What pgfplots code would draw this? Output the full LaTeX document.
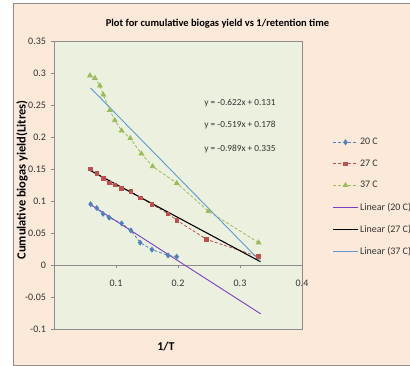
\documentclass[border=0pt]{standalone}
\usepackage{fontspec}
\setmainfont{Carlito}
\usepackage{pgfplots}
\pgfplotsset{compat=1.18}
\definecolor{peach}{HTML}{FDE9D9}
\definecolor{plotbg}{HTML}{EBF1DE}
\definecolor{sblue}{HTML}{4F81BD}
\definecolor{sred}{HTML}{C0504D}
\definecolor{sgreen}{HTML}{9BBB59}
\definecolor{lpurple}{HTML}{7B3FC4}
\definecolor{lblue}{HTML}{5B9BD5}
\definecolor{framegray}{HTML}{8C8C8C}
\begin{document}
\begin{tikzpicture}
\useasboundingbox (0pt,0pt) rectangle (410pt,366pt);
\fill[white] (0pt,0pt) rectangle (410pt,366pt);
\filldraw[fill=peach, draw=framegray, line width=0.8pt] (13pt,1pt) rectangle (412pt,363pt);
\node[font=\bfseries\fontsize{10.5}{12}\selectfont] at (217.5pt,342.5pt) {Plot for cumulative biogas yield vs 1/retention time};
\node[font=\bfseries\fontsize{12.5}{14}\selectfont, rotate=90] at (22pt,186pt) {Cumulative biogas yield(Litres)};
\node[font=\bfseries\fontsize{12}{14}\selectfont] at (166pt,19pt) {1/T};
\begin{axis}[
  at={(54pt,37pt)}, anchor=south west,
  scale only axis, width=248pt, height=288pt,
  xmin=0, xmax=0.4, ymin=-0.1, ymax=0.35,
  axis x line=middle, axis y line=left,
  axis line style={-, draw=framegray, line width=0.6pt},
  axis background/.style={fill=plotbg},
  xtick={0,0.1,0.2,0.3,0.4},
  ytick={-0.1,-0.05,0,0.05,0.1,0.15,0.2,0.25,0.3,0.35},
  yticklabels={-0.1,-0.05,0,0.05,0.1,0.15,0.2,0.25,0.3,0.35},
  xticklabels={0,0.1,0.2,0.3,0.4},
  tick align=outside, major tick length=3pt,
  tick style={draw=framegray, line width=0.6pt},
  xticklabel style={yshift=-8pt, font=\fontsize{10}{12}\selectfont, text=black!80},
  yticklabel style={xshift=-1.5pt, font=\fontsize{10}{12}\selectfont, text=black!80},
  /pgf/number format/assume math mode=true,
  clip=false,
  legend cell align=left,
  legend style={draw=none, fill=none, at={(1.122,0.668)}, anchor=north west,
    inner sep=0pt, row sep=10.5pt,
    font=\fontsize{10}{12}\selectfont, text=black!80,
    nodes={inner sep=1.5pt}},
  legend image code/.code={\draw[mark repeat=2,mark phase=2,#1] plot coordinates {(0pt,0pt) (12.5pt,0pt) (25pt,0pt)};},
]
\draw[framegray, line width=0.6pt] (rel axis cs:0,0) rectangle (rel axis cs:1,1);
\addplot[sblue, dashed, dash pattern=on 3pt off 2pt, line width=0.8pt, mark=diamond*, mark size=2.4pt, mark options={solid, fill=sblue}] coordinates {
(0.059,0.095) (0.069,0.089) (0.079,0.080) (0.089,0.074) (0.109,0.065) (0.124,0.054) (0.139,0.035) (0.158,0.024) (0.184,0.015) (0.198,0.013)};
\addlegendentry{20 C}
\addplot[sred, dashed, dash pattern=on 3pt off 2pt, line width=0.8pt, mark=square*, mark size=1.8pt, mark options={solid, fill=sred}] coordinates {
(0.059,0.150) (0.069,0.143) (0.0795,0.135) (0.089,0.128) (0.098,0.125) (0.109,0.120) (0.124,0.115) (0.139,0.105) (0.158,0.095) (0.184,0.080) (0.198,0.070) (0.246,0.040) (0.330,0.013)};
\addlegendentry{27 C}
\addplot[sgreen, dashed, dash pattern=on 3pt off 2pt, line width=0.8pt, mark=triangle*, mark size=2.6pt, mark options={solid, fill=sgreen}] coordinates {
(0.058,0.296) (0.066,0.292) (0.074,0.280) (0.0795,0.266) (0.090,0.242) (0.098,0.226) (0.109,0.210) (0.123,0.198) (0.141,0.174) (0.159,0.154) (0.198,0.128) (0.249,0.084) (0.330,0.035)};
\addlegendentry{37 C}
\addplot[lpurple, line width=0.9pt] coordinates {(0.0588,0.0944) (0.3333,-0.0763)};
\addlegendentry{Linear (20 C)}
\addplot[black, line width=1.1pt] coordinates {(0.0588,0.1475) (0.3333,0.0050)};
\addlegendentry{Linear (27 C)}
\addplot[lblue, line width=0.9pt] coordinates {(0.0588,0.2768) (0.3333,0.0054)};
\addlegendentry{Linear (37 C)}
\node[font=\fontsize{9.3}{11}\selectfont, text=black!80] at (axis cs:0.300,0.253) {y = -0.622x + 0.131};
\node[font=\fontsize{9.3}{11}\selectfont, text=black!80] at (axis cs:0.300,0.219) {y = -0.519x + 0.178};
\node[font=\fontsize{9.3}{11}\selectfont, text=black!80] at (axis cs:0.300,0.181) {y = -0.989x + 0.335};
\end{axis}
\end{tikzpicture}
\end{document}
